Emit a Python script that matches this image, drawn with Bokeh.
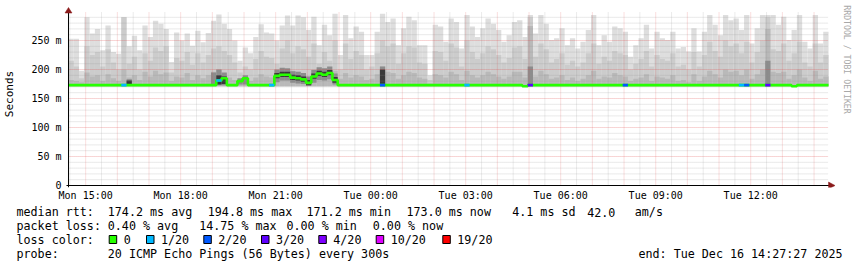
import math
from bokeh.plotting import figure
from bokeh.layouts import column
from bokeh.models import Range1d, FixedTicker
from bokeh.core.properties import value
from bokeh.embed import file_html
from bokeh.resources import INLINE

# ---------------- data ----------------
START_H = 14 + 27 / 60 + 27 / 3600        # Mon 14:27:27, hours since Mon 00:00
END_H = START_H + 24
BIN_H = 10 / 60                             # 10-minute bins
BASE_MS = 171                               # fastest ping (bottom of smoke)
Y_MAX = 300

# max ping per bin (lightest smoke)
top_ms = [
    253, 253, 198, 290, 262, 270, 233, 276, 230, 227,
    290, 240, 258, 233, 276, 256, 284, 279, 270, 213,
    264, 250, 262, 241, 267, 247, 263, 284, 295, 279,
    270, 250, 215, 238, 228, 256, 278, 264, 262, 250,
    276, 293, 276, 293, 290, 268, 291, 242, 277, 259,
    296, 225, 294, 254, 274, 265, 225, 225, 265, 296,
    282, 288, 242, 271, 291, 285, 242, 242, 190, 277,
    274, 248, 288, 282, 236, 294, 274, 256, 271, 288,
    279, 268, 248, 259, 282, 285, 256, 294, 262, 294,
    279, 251, 254, 271, 242, 254, 236, 248, 268, 294,
    242, 259, 248, 274, 271, 265, 222, 242, 254, 277,
    236, 265, 254, 251, 265, 236, 239, 231, 271, 231,
    265, 294, 277, 259, 294, 285, 288, 268, 294, 245,
    271, 294, 294, 294, 277, 291, 251, 268, 294, 248,
    236, 294, 245, 265]

# upper ping spread per bin (medium smoke)
mid_ms = [
    215, 205, 185, 240, 225, 230, 205, 235, 212, 200,
    290, 210, 222, 200, 228, 215, 238, 232, 240, 195,
    220, 215, 230, 208, 228, 212, 225, 236, 240, 232,
    225, 212, 195, 205, 200, 218, 232, 222, 220, 210,
    236, 250, 228, 240, 235, 222, 245, 210, 230, 215,
    250, 200, 245, 218, 232, 225, 200, 205, 228, 250,
    240, 245, 210, 228, 240, 238, 212, 210, 182, 232,
    230, 215, 245, 238, 205, 250, 230, 218, 228, 240,
    235, 225, 212, 220, 238, 240, 218, 290, 222, 245,
    235, 212, 218, 228, 208, 215, 205, 212, 228, 245,
    210, 222, 215, 232, 228, 225, 200, 210, 218, 232,
    205, 225, 218, 215, 228, 205, 208, 200, 230, 205,
    225, 248, 232, 222, 250, 240, 245, 228, 248, 212,
    230, 250, 290, 235, 232, 245, 215, 228, 248, 212,
    205, 245, 212, 225]

# inner smoke per bin (darker)
low_ms = [
    182, 180, 178, 195, 188, 190, 180, 192, 185, 180,
    200, 186, 190, 182, 196, 188, 198, 192, 195, 180,
    188, 186, 194, 182, 190, 185, 190, 196, 200, 192,
    186, 182, 178, 184, 180, 186, 192, 188, 186, 190,
    200, 200, 198, 196, 192, 188, 200, 198, 200, 196,
    198, 184, 194, 186, 190, 188, 182, 184, 192, 205,
    196, 194, 184, 190, 196, 194, 186, 184, 176, 192,
    190, 186, 196, 192, 182, 198, 190, 186, 190, 196,
    192, 188, 184, 188, 196, 196, 186, 275, 188, 198,
    192, 184, 186, 190, 182, 186, 180, 184, 190, 198,
    184, 188, 186, 194, 190, 188, 180, 184, 186, 192,
    180, 188, 186, 184, 190, 180, 182, 178, 192, 180,
    188, 198, 192, 186, 200, 196, 198, 190, 200, 184,
    192, 200, 270, 196, 194, 196, 184, 190, 200, 186,
    180, 198, 184, 188]

# median rtt per bin
median_ms = [
    173, 173, 173, 173, 173, 173, 173, 173, 173, 173,
    173, 173, 173, 173, 173, 173, 173, 173, 173, 173,
    173, 173, 173, 173, 173, 173, 173, 173, 181, 185,
    173, 173, 180, 185, 173, 173, 173, 173, 173, 189,
    191, 191, 186, 185, 183, 177, 188, 193, 191, 194,
    182, 173, 173, 173, 173, 173, 173, 173, 173, 173,
    173, 173, 173, 173, 173, 173, 173, 173, 173, 173,
    173, 173, 173, 173, 173, 173, 173, 173, 173, 173,
    173, 173, 173, 173, 173, 173, 171, 173, 173, 173,
    173, 173, 173, 173, 173, 173, 173, 173, 173, 173,
    173, 173, 173, 173, 173, 173, 173, 173, 173, 173,
    173, 173, 173, 173, 173, 173, 173, 173, 173, 173,
    173, 173, 173, 173, 173, 173, 173, 173, 173, 173,
    173, 173, 173, 173, 173, 173, 173, 171, 173, 173,
    173, 173, 173, 173]

# lost pings (of 20) per bin
loss_cnt = [
    0, 0, 0, 0, 0, 0, 0, 0, 0, 0,
    1, 0, 0, 0, 0, 0, 0, 0, 0, 0,
    0, 0, 0, 0, 0, 0, 0, 0, 1, 0,
    0, 0, 0, 0, 0, 0, 0, 0, 1, 0,
    0, 0, 0, 0, 0, 0, 0, 0, 0, 0,
    0, 0, 0, 0, 0, 0, 0, 0, 0, 2,
    0, 0, 0, 0, 0, 0, 0, 0, 0, 0,
    0, 0, 0, 0, 0, 1, 0, 0, 0, 0,
    0, 0, 0, 0, 0, 0, 0, 3, 0, 0,
    0, 0, 0, 0, 0, 0, 0, 0, 0, 0,
    0, 0, 0, 0, 0, 2, 0, 0, 0, 0,
    0, 0, 0, 0, 0, 0, 0, 0, 0, 0,
    0, 0, 0, 0, 0, 0, 0, 1, 2, 0,
    0, 0, 3, 0, 0, 0, 0, 0, 0, 0,
    0, 0, 0, 0]

# dense smoke close to the median (medium dark / dark)
band1_bin = [11, 27, 28, 29, 32, 33, 39, 40, 41, 42, 43, 44, 45, 46, 47, 48, 49, 50, 59, 87, 132]
band1_lo = [174, 173, 173, 173, 174, 174, 178, 181, 181, 177, 176, 175, 172, 177, 182, 181, 183, 174, 173, 173, 173]
band1_hi = [183, 195, 200, 195, 185, 190, 200, 203, 202, 197, 196, 194, 188, 199, 204, 202, 205, 193, 205, 205, 215]
band2_bin = [11, 28, 29, 39, 40, 41, 42, 43, 44, 45, 46, 47, 48, 49, 50, 59]
band2_lo = [175, 174, 175, 185, 187, 187, 182, 181, 179, 173, 184, 189, 187, 190, 177, 174]
band2_hi = [181, 190, 188, 194, 196, 196, 191, 190, 188, 182, 193, 198, 196, 199, 187, 200]

x_tick_hours = [15, 18, 21, 24, 27, 30, 33, 36]
x_tick_labels = ["Mon 15:00", "Mon 18:00", "Mon 21:00", "Tue 00:00",
                 "Tue 03:00", "Tue 06:00", "Tue 09:00", "Tue 12:00"]
y_ticks = [0, 50, 100, 150, 200, 250]
y_tick_labels = ["0", "50 m", "100 m", "150 m", "200 m", "250 m"]

loss_labels = ["0", "1/20", "2/20", "3/20", "4/20", "10/20", "19/20"]
loss_levels = [0, 1, 2, 3, 4, 10, 19]
loss_colors = ["#26ff00", "#00b8ff", "#0059ff", "#5e00ff", "#7e00ff", "#dd00ff", "#ff0000"]

stats_rtt = ["median rtt:", "174.2 ms avg", "194.8 ms max", "171.2 ms min",
             "173.0 ms now", "4.1 ms sd", "42.0", "am/s"]
stats_loss = ["packet loss:", "0.40 % avg", "14.75 % max", "0.00 % min", "0.00 % now"]
probe_text = ["probe:", "20 ICMP Echo Pings (56 Bytes) every 300s",
              "end: Tue Dec 16 14:27:27 2025"]
credit_text = "RRDTOOL / TOBI OETIKER"

n = len(top_ms)
assert n == 144 and len(mid_ms) == n and len(low_ms) == n and len(median_ms) == n and len(loss_cnt) == n

# ---------------- layout constants (pixels) ----------------
W = 857
TOP_H = 203                 # height of chart figure
PLOT_L, PLOT_R = 67, 828    # plot area in page pixels
PLOT_T, PLOT_B = 11, 185
FRAME_L, FRAME_B = 62, 187  # bokeh frame (slightly larger than plot area)
PXH = (PLOT_R - PLOT_L) / 24.0       # px per hour
PXM = (PLOT_B - PLOT_T) / Y_MAX      # px per ms
MONO = "DejaVu Sans Mono"

x_lo = START_H - (PLOT_L - FRAME_L) / PXH
x_hi = END_H + (W - PLOT_R) / PXH
y_lo = -(FRAME_B - PLOT_B) / PXM
y_hi = Y_MAX + PLOT_T / PXM

def dx(px):
    return px / PXH

def dy(px):
    return px / PXM

p = figure(width=W, height=TOP_H,
           x_range=Range1d(x_lo, x_hi), y_range=Range1d(y_lo, y_hi),
           output_backend="svg", toolbar_location=None,
           min_border_left=FRAME_L, min_border_right=0, min_border_top=0,
           min_border_bottom=TOP_H - FRAME_B,
           background_fill_color="white", border_fill_color="white", outline_line_color=None)
p.grid.visible = False

left = [START_H + i * BIN_H for i in range(n)]
right = [START_H + (i + 1) * BIN_H for i in range(n)]

# smoke layers
p.quad(left=left, right=right, bottom=BASE_MS, top=top_ms, fill_color="#dedede", line_color=None)
p.quad(left=left, right=right, bottom=BASE_MS, top=mid_ms, fill_color="#cccccc", line_color=None)
p.quad(left=left, right=right, bottom=BASE_MS, top=low_ms, fill_color="#b9b9b9", line_color=None)
p.quad(left=[left[i] for i in band1_bin], right=[right[i] for i in band1_bin],
       bottom=band1_lo, top=band1_hi, fill_color="#8c8c8c", line_color=None)
p.quad(left=[left[i] for i in band2_bin], right=[right[i] for i in band2_bin],
       bottom=band2_lo, top=band2_hi, fill_color="#383838", line_color=None)

# dotted grid over the smoke
hours_major = list(range(15, 39))
hours_minor = [h + 0.5 for h in range(14, 38)]
ms_minor = [m for m in range(10, Y_MAX, 10) if m % 50]
ms_major = list(range(50, Y_MAX, 50))
p.segment(x0=hours_minor, x1=hours_minor, y0=0, y1=Y_MAX,
          line_color="#909090", line_alpha=0.35, line_width=1, line_dash="1 1")
p.segment(x0=START_H, x1=END_H, y0=ms_minor, y1=ms_minor,
          line_color="#909090", line_alpha=0.4, line_width=1, line_dash="1 1")
p.segment(x0=hours_major, x1=hours_major, y0=0, y1=Y_MAX,
          line_color="#e04848", line_alpha=0.35, line_width=1, line_dash="1 1")
p.segment(x0=START_H, x1=END_H, y0=ms_major, y1=ms_major,
          line_color="#e04848", line_alpha=0.45, line_width=1, line_dash="1 1")

# median line (step), coloured by loss
sx, sy = [], []
for i in range(n):
    sx += [left[i], right[i]]
    sy += [median_ms[i], median_ms[i]]
p.line(sx, sy, line_color=loss_colors[0], line_width=2.6)
for lvl, col in zip(loss_levels[1:], loss_colors[1:]):
    idx = [i for i in range(n) if loss_cnt[i] == lvl]
    if idx:
        p.segment(x0=[left[i] for i in idx], x1=[right[i] for i in idx],
                  y0=[median_ms[i] for i in idx], y1=[median_ms[i] for i in idx],
                  line_color=col, line_width=2.6)

# axis lines and arrows
p.segment(x0=[START_H - dx(2), START_H], x1=[END_H + dx(3), START_H],
          y0=[0, -dy(2)], y1=[0, Y_MAX + dy(1)], line_color="black", line_width=1)
p.patches(xs=[[START_H - dx(3.5), START_H + dx(3.5), START_H],
              [END_H, END_H, END_H + dx(6.5)]],
          ys=[[Y_MAX - dy(1.5), Y_MAX - dy(1.5), Y_MAX + dy(4)],
              [-dy(3.5), dy(3.5), 0]],
          fill_color="#8b1a1a", line_color="#8b1a1a", line_width=0.5)

# credit text on the right
p.text(x=[END_H + dx(18.5)], y=[(PLOT_B - 59) / PXM], text=[credit_text],
       angle=-math.pi / 2, text_font=value(MONO), text_font_size="8.2px",
       text_color="#a8a8a8", text_align="center", text_baseline="middle")

# axes
xa = p.xaxis[0]
xa.ticker = FixedTicker(ticks=x_tick_hours)
xa.major_label_overrides = dict(zip(x_tick_hours, x_tick_labels))
ya = p.yaxis[0]
ya.ticker = FixedTicker(ticks=y_ticks)
ya.major_label_overrides = dict(zip(y_ticks, y_tick_labels))
for ax in (xa, ya):
    ax.axis_line_color = None
    ax.major_tick_in = 0
    ax.major_tick_out = 0
    ax.minor_tick_in = 0
    ax.minor_tick_out = 0
    ax.major_label_text_font = MONO
    ax.major_label_text_font_size = "10px"
    ax.major_label_text_color = "black"
xa.major_label_standoff = 2
ya.major_label_standoff = 2
ya.axis_label = "Seconds"
ya.axis_label_text_font = MONO
ya.axis_label_text_font_size = "11px"
ya.axis_label_text_font_style = "normal"
ya.axis_label_text_color = "black"
ya.axis_label_standoff = 12

# ---------------- legend / info figure ----------------
BOT_H = 267 - TOP_H
q = figure(width=W, height=BOT_H, x_range=Range1d(0, W), y_range=Range1d(267, TOP_H),
           output_backend="svg", toolbar_location=None, x_axis_type=None, y_axis_type=None,
           min_border=0, min_border_left=0, min_border_right=0, min_border_top=0, min_border_bottom=0,
           background_fill_color="white", border_fill_color="white", outline_line_color=None)
q.grid.visible = False
for fig in (p, q):
    if "frame_align" in fig.properties():
        fig.frame_align = False

FS = "11.7px"

def put(texts, xs, y):
    q.text(x=xs, y=[y] * len(texts), text=texts, text_font=value(MONO), text_font_size=FS,
           text_color="black", text_align="left", text_baseline="middle")

put(stats_rtt, [16, 107.3, 207.3, 306, 406, 511.7, 586.7, 634.3], 211.7)
put(stats_loss, [16, 107.3, 198.7, 286, 372.3], 225)
put(["loss color:"], [16], 239.3)
box_x = [108.7, 146, 203.3, 261, 318.3, 375.7, 442.3]
q.quad(left=box_x, right=[b + 7.5 for b in box_x], top=235, bottom=243,
       fill_color=loss_colors, line_color="black", line_width=1)
put(loss_labels, [b + 14.5 for b in box_x], 239.3)
put(probe_text, [16, 107.3, 638], 253.3)

open("out.html", "w").write(file_html(column(p, q, spacing=0), INLINE))
